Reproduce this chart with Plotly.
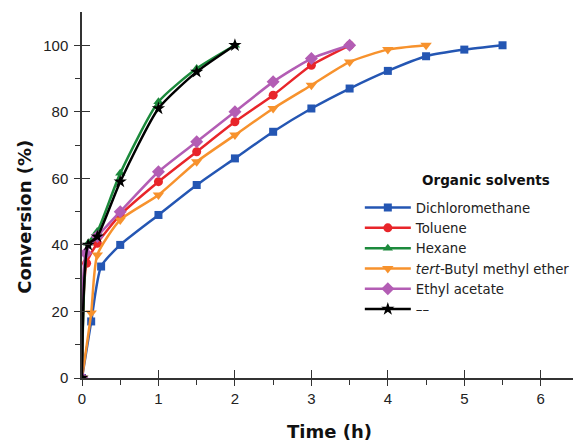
import plotly.graph_objects as go

# ---- data ----
t_dcm = [0, 0.12, 0.25, 0.5, 1, 1.5, 2, 2.5, 3, 3.5, 4, 4.5, 5, 5.5]
v_dcm = [0, 17, 33.5, 40, 49, 58, 66, 74, 81, 87, 92.3, 96.7, 98.7, 100]

t_tol = [0, 0.06, 0.2, 0.5, 1, 1.5, 2, 2.5, 3, 3.5]
v_tol = [0, 34.5, 40.5, 49, 59, 68, 77, 85, 94, 100]

t_hex = [0, 0.08, 0.2, 0.5, 1, 1.5, 2]
v_hex = [0, 40.5, 44, 61.5, 83, 93, 100]

t_tbme = [0, 0.12, 0.2, 0.5, 1, 1.5, 2, 2.5, 3, 3.5, 4, 4.5]
v_tbme = [0, 19.5, 37, 47.5, 55, 65, 73, 81, 88, 95, 98.7, 100]

t_etoac = [0, 0.05, 0.2, 0.5, 1, 1.5, 2, 2.5, 3, 3.5]
v_etoac = [0, 37.5, 42.5, 50, 62, 71, 80, 89, 96, 100]

t_none = [0, 0.08, 0.2, 0.5, 1, 1.5, 2]
v_none = [0, 40, 42.5, 59, 81, 92, 100]

names = ["Dichloromethane", "Toluene", "Hexane",
         "<i>tert</i>-Butyl methyl ether", "Ethyl acetate", "––"]
colors = ["#2456b3", "#e8252a", "#1c8a3c", "#f7922d", "#b35db4", "#000000"]
symbols = ["square", "circle", "triangle-up", "triangle-down", "diamond", "star"]
sizes = [8, 9, 9, 10, 10, 10]

x_ticks = [0, 1, 2, 3, 4, 5, 6]
y_ticks = [0, 20, 40, 60, 80, 100]

series = [(t_dcm, v_dcm), (t_tol, v_tol), (t_hex, v_hex),
          (t_tbme, v_tbme), (t_etoac, v_etoac), (t_none, v_none)]

fig = go.Figure()
for (t, v), n, c, s, sz in zip(series, names, colors, symbols, sizes):
    fig.add_trace(go.Scatter(
        x=t, y=v, name=n, mode="lines+markers",
        line=dict(color=c, width=2.5, shape="spline", smoothing=0.6),
        marker=dict(color=c, symbol=s, size=sz, line=dict(width=0)),
    ))

# invisible trace to host overlay axes (inside halves of crossing ticks)
fig.add_trace(go.Scatter(x=[0], y=[0], xaxis="x2", yaxis="y2", mode="markers",
                         marker=dict(opacity=0), showlegend=False, hoverinfo="skip"))

font_ticks = dict(family="Liberation Sans, Arial", size=15, color="#222")
fig.update_layout(
    # page body has an 8px margin, so the figure is offset by (8, 8)
    width=573, height=434,
    margin=dict(l=74, r=2, t=4, b=64, autoexpand=False),
    paper_bgcolor="white", plot_bgcolor="white",
    showlegend=True,
    legend=dict(
        x=0.559, y=0.507, xanchor="left", yanchor="top",
        font=dict(family="DejaVu Sans", size=13.3, color="#222"),
        bgcolor="rgba(0,0,0,0)", tracegroupgap=0, itemwidth=46,
    ),
    xaxis=dict(
        range=[0, 6.5], showgrid=False, zeroline=False,
        showline=True, linecolor="#333", linewidth=1.5,
        tickvals=x_ticks, ticks="outside", ticklen=6,
        tickcolor="#333", tickwidth=1.3, tickfont=font_ticks,
        minor=dict(tickvals=[0.5, 1.5, 2.5, 3.5, 4.5, 5.5, 6.5], ticks="outside",
                   ticklen=5, tickcolor="#333", tickwidth=1.2),
    ),
    yaxis=dict(
        range=[0, 110], showgrid=False, zeroline=False,
        showline=True, linecolor="#333", linewidth=1.5,
        tickvals=y_ticks, ticks="outside", ticklen=6,
        tickcolor="#333", tickwidth=1.3, tickfont=font_ticks,
        ticklabelstandoff=3,
        minor=dict(tickvals=[10, 30, 50, 70, 90], ticks="outside",
                   ticklen=5, tickcolor="#333", tickwidth=1.2),
    ),
    xaxis2=dict(
        range=[0, 6.5], overlaying="x", anchor="y2", showgrid=False,
        zeroline=False, showline=False, showticklabels=False,
        tickvals=x_ticks[1:], ticks="inside", ticklen=8,
        tickcolor="#333", tickwidth=1.3,
    ),
    yaxis2=dict(
        range=[0, 110], overlaying="y", anchor="x2", showgrid=False,
        zeroline=False, showline=False, showticklabels=False,
        tickvals=y_ticks[1:], ticks="inside", ticklen=8,
        tickcolor="#333", tickwidth=1.3,
    ),
    annotations=[
        dict(text="<b>Organic solvents</b>", xref="paper", yref="paper",
             x=0.68, y=0.542, xanchor="left", yanchor="middle", showarrow=False,
             font=dict(family="DejaVu Sans", size=13.5, color="#111")),
        dict(text="<b>Time (h)</b>", xref="paper", yref="paper",
             x=0.497, y=-0.147, xanchor="center", yanchor="middle", showarrow=False,
             font=dict(family="DejaVu Sans", size=18, color="#111")),
        dict(text="<b>Conversion (%)</b>", xref="paper", yref="paper",
             x=-0.115, y=0.44, xanchor="center", yanchor="middle", showarrow=False,
             textangle=-90,
             font=dict(family="DejaVu Sans", size=18, color="#111")),
    ],
)

fig.write_html("out.html")
